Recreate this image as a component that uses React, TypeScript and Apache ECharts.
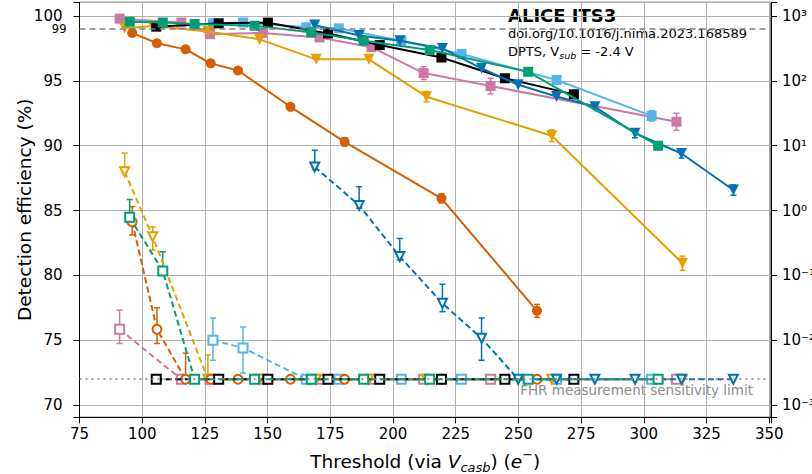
import React, { useEffect, useRef } from 'react';
import * as echarts from 'echarts';

// FHR sensitivity limit (right axis units); points below it are drawn at the limit
const LIMIT = 0.0025;

// ---- thresholds (e-) ----
const pinkThr = [91, 115.6, 127, 148, 170.7, 191.4, 212.2, 238.9, 313];
const greenThr = [95, 108.2, 120.9, 144.8, 167.4, 188.3, 214.6, 253.9, 305.7];
const blackThr = [105.6, 130.5, 150.1, 174.1, 194.7, 219.3, 244.6, 272.1];
const blueThr = [168.8, 186.5, 202.7, 219.7, 235.3, 249.9, 265.2, 280.5, 296.5, 315, 335.7];
const skyThr = [128.2, 140.2, 165.4, 178.4, 203.3, 227.3, 265.2, 303.1];
const yellowThr = [93, 104.2, 126.2, 146.8, 169.4, 190.4, 213.3, 263.3, 315.4];
const orangeThr = [96, 105.9, 117.3, 127.3, 138.2, 159.1, 180.7, 219.3, 257.4];

// ---- detection efficiency (%) ----
const pinkEff = [99.8, 99.5, 98.6, 98.7, 98.35, 97.6, 95.6, 94.6, 91.85];
const greenEff = [99.56, 99.5, 99.38, 99.25, 98.74, 98.1, 97.38, 95.7, 90.0];
const blackEff = [99.18, 99.44, 99.49, 98.66, 97.76, 96.8, 95.2, 93.96];
const blueEff = [99.3, 98.5, 98.1, 97.5, 95.97, 94.7, 93.8, 93.0, 90.96, 89.4, 86.58];
const skyEff = [99.44, 99.5, 99.13, 99.05, 98.1, 97.07, 95.07, 92.3];
const yellowEff = [99.05, 99.23, 98.8, 98.2, 96.66, 96.66, 93.78, 90.77, 80.93];
const orangeEff = [98.7, 97.9, 97.43, 96.35, 95.8, 93.0, 90.3, 85.94, 77.26];

// ---- efficiency uncertainties (±, %) ----
const pinkEffErr = [null, null, null, null, null, null, 0.5, 0.6, 0.65];
const greenEffErr = [null, null, null, null, null, null, null, null, 0.3];
const blackEffErr = [null, null, null, null, null, null, null, 0.3];
const blueEffErr = [null, null, null, null, null, null, null, null, 0.35, 0.35, 0.4];
const skyEffErr = [null, null, null, null, null, null, null, 0.4];
const yellowEffErr = [null, null, null, null, null, null, 0.4, 0.45, 0.55];
const orangeEffErr = [null, null, null, null, null, null, 0.3, 0.35, 0.5];

// ---- fake-hit rate (right log axis) ----
const pinkFhr = [0.0147, LIMIT, LIMIT, LIMIT, LIMIT, LIMIT, LIMIT, LIMIT, LIMIT];
const greenFhr = [0.785, 0.117, LIMIT, LIMIT, LIMIT, LIMIT, LIMIT, LIMIT, LIMIT];
const blackFhr = [LIMIT, LIMIT, LIMIT, LIMIT, LIMIT, LIMIT, LIMIT, LIMIT];
const blueFhr = [4.7, 1.2, 0.195, 0.037, 0.0107, LIMIT, LIMIT, LIMIT, LIMIT, LIMIT, LIMIT];
const skyFhr = [0.01, 0.0076, LIMIT, LIMIT, LIMIT, LIMIT, LIMIT, LIMIT];
const yellowFhr = [3.96, 0.394, LIMIT, LIMIT, LIMIT, LIMIT, LIMIT, LIMIT, LIMIT];
const orangeFhr = [0.67, 0.0147, LIMIT, LIMIT, LIMIT, LIMIT, LIMIT, LIMIT, LIMIT];

// ---- FHR uncertainty ranges [low, high], for the first points of each set ----
const pinkFhrErr = [[0.0089, 0.029]];
const greenFhrErr = [[0.645, 1.48], [0.101, 0.231]];
const blackFhrErr: number[][] = [];
const blueFhrErr = [[4.3, 8.5], [1.09, 2.33], [0.172, 0.37], [0.0275, 0.073], [0.0049, 0.022]];
const skyFhrErr = [[0.0049, 0.022], [0.0031, 0.016]];
const yellowFhrErr = [[3.9, 7.7], [0.245, 0.56], [LIMIT, 0.0059]];
const orangeFhrErr = [[0.42, 1.15], [0.0089, 0.0316], [LIMIT, 0.0063]];

// ---- axis tick values ----
const xTicks = [75, 100, 125, 150, 175, 200, 225, 250, 275, 300, 325, 350];
const yTickStep = 5;
const xMin = 75;
const xMax = 350.7;
const yMin = 69.05;
const yMax = 101.06;
const fhrMin = 0.000646;
const fhrMax = 1629;

const FONT = 'DejaVu Sans';

const SETS = [
  { color: '#CC79A7', sym: 'rect', rot: 0, thr: pinkThr, eff: pinkEff, effErr: pinkEffErr, fhr: pinkFhr, fhrErr: pinkFhrErr },
  { color: '#56B4E9', sym: 'rect', rot: 0, thr: skyThr, eff: skyEff, effErr: skyEffErr, fhr: skyFhr, fhrErr: skyFhrErr },
  { color: '#E69F00', sym: 'triangle', rot: 180, thr: yellowThr, eff: yellowEff, effErr: yellowEffErr, fhr: yellowFhr, fhrErr: yellowFhrErr },
  { color: '#D55E00', sym: 'circle', rot: 0, thr: orangeThr, eff: orangeEff, effErr: orangeEffErr, fhr: orangeFhr, fhrErr: orangeFhrErr },
  { color: '#000000', sym: 'rect', rot: 0, thr: blackThr, eff: blackEff, effErr: blackEffErr, fhr: blackFhr, fhrErr: blackFhrErr },
  { color: '#0072B2', sym: 'triangle', rot: 180, thr: blueThr, eff: blueEff, effErr: blueEffErr, fhr: blueFhr, fhrErr: blueFhrErr },
  { color: '#009E73', sym: 'rect', rot: 0, thr: greenThr, eff: greenEff, effErr: greenEffErr, fhr: greenFhr, fhrErr: greenFhrErr },
];

const SUP: Record<string, string> = { '-': '⁻', '0': '⁰', '1': '¹', '2': '²', '3': '³', '4': '⁴' };

function errorBars(color: string, data: number[][], yAxisIndex: number, z: number) {
  return {
    type: 'custom',
    yAxisIndex,
    z,
    silent: true,
    data,
    encode: { x: 0, y: [1, 2] },
    renderItem: (_params: any, api: any) => {
      const x = api.value(0);
      const p1 = api.coord([x, api.value(1)]);
      const p2 = api.coord([x, api.value(2)]);
      const cap = 3;
      const st = { stroke: color, lineWidth: 1.5 };
      return {
        type: 'group',
        children: [
          { type: 'line', shape: { x1: p1[0], y1: p1[1], x2: p2[0], y2: p2[1] }, style: st },
          { type: 'line', shape: { x1: p1[0] - cap, y1: p1[1], x2: p1[0] + cap, y2: p1[1] }, style: st },
          { type: 'line', shape: { x1: p2[0] - cap, y1: p2[1], x2: p2[0] + cap, y2: p2[1] }, style: st },
        ],
      };
    },
  };
}

export default function App() {
  const ref = useRef<HTMLDivElement>(null);

  useEffect(() => {
    if (!ref.current) return;
    const chart = echarts.init(ref.current, undefined, { renderer: 'svg' });

    const series: any[] = [];

    // FHR (dashed, open markers) on right log axis
    SETS.forEach((s, k) => {
      series.push({
        type: 'line',
        yAxisIndex: 1,
        z: 2 + k * 0.01,
        data: s.thr.map((t, i) => [t, s.fhr[i]]),
        symbol: 'empty' + s.sym.charAt(0).toUpperCase() + s.sym.slice(1),
        symbolRotate: s.rot,
        symbolSize: 9,
        itemStyle: { color: s.color, borderWidth: 1.3 },
        lineStyle: { color: s.color, width: 2, type: [6, 3.5] },
        silent: true,
      });
      const fe: number[][] = s.fhrErr.map((r, j) => [s.thr[j], r[0], r[1]]);
      if (fe.length) series.push(errorBars(s.color, fe, 1, 2));
    });

    // Efficiency (solid, filled markers) on left axis
    SETS.forEach((s, k) => {
      series.push({
        type: 'line',
        yAxisIndex: 0,
        z: 4 + k * 0.01,
        data: s.thr.map((t, i) => [t, s.eff[i]]),
        symbol: s.sym,
        symbolRotate: s.rot,
        symbolSize: s.sym === 'triangle' ? 11 : 10,
        itemStyle: { color: s.color },
        lineStyle: { color: s.color, width: 2 },
        silent: true,
      });
      const ee: number[][] = [];
      s.effErr.forEach((e, i) => {
        if (e != null) ee.push([s.thr[i], s.eff[i] - e, s.eff[i] + e]);
      });
      if (ee.length) series.push(errorBars(s.color, ee, 0, 4));
    });

    // reference lines
    series.push({
      type: 'line',
      yAxisIndex: 0,
      data: [],
      z: 1,
      markLine: {
        silent: true,
        symbol: ['none', 'none'],
        animation: false,
        data: [
          {
            yAxis: 99,
            lineStyle: { color: '#808080', type: [6, 4], width: 1.5 },
            label: { show: true, position: 'start', formatter: '99', color: '#000', fontSize: 11.5, fontFamily: FONT, distance: 13 },
          },
          {
            yAxis: 72,
            lineStyle: { color: '#808080', type: [2, 4], width: 1.5 },
            label: { show: false },
          },
        ],
      },
    });

    const option: any = {
      animation: false,
      textStyle: { fontFamily: FONT },
      grid: {
        left: 79.5,
        right: 41,
        top: 2.3,
        bottom: 56.7,
        show: true,
        borderColor: '#000',
        borderWidth: 1,
        containLabel: false,
        outerBoundsMode: 'none',
      },
      xAxis: {
        type: 'value',
        min: xMin,
        max: xMax,
        interval: 25,
        name: '{a|Threshold (via }{i|V}{s|casb}{a|) (}{i|e}{p|−}{a|)}',
        nameLocation: 'middle',
        nameGap: 31,
        nameTextStyle: {
          rich: {
            a: { fontSize: 18.5, fontFamily: FONT, color: '#000', lineHeight: 26, verticalAlign: 'middle' },
            i: { fontSize: 18.5, fontFamily: FONT, color: '#000', fontStyle: 'italic', lineHeight: 26, verticalAlign: 'middle' },
            s: { fontSize: 13, fontFamily: FONT, color: '#000', fontStyle: 'italic', lineHeight: 13, verticalAlign: 'bottom' },
            p: { fontSize: 13, fontFamily: FONT, color: '#000', lineHeight: 13, verticalAlign: 'top' },
          },
        },
        axisLine: { show: true, onZero: false, lineStyle: { color: '#000', width: 1 } },
        axisTick: { show: true, length: 6, lineStyle: { color: '#000' } },
        axisLabel: {
          fontSize: 15,
          color: '#000',
          fontFamily: FONT,
          margin: 9,
          formatter: (v: number) => (xTicks.some((t) => Math.abs(t - v) < 1e-6) ? String(Math.round(v)) : ''),
        },
        splitLine: { show: true, lineStyle: { color: '#b0b0b0', width: 1 } },
      },
      yAxis: [
        {
          type: 'value',
          min: yMin,
          max: yMax,
          position: 'left',
          name: 'Detection efficiency (%)',
          nameLocation: 'middle',
          nameGap: 46,
          nameMoveOverlap: false,
          nameTextStyle: { fontSize: 18.5, color: '#000', fontFamily: FONT },
          axisLine: { show: true, onZero: false, lineStyle: { color: '#000', width: 1 } },
          axisTick: { show: true, length: 6, lineStyle: { color: '#000' } },
          axisLabel: {
            fontSize: 15,
            color: '#000',
            fontFamily: FONT,
            margin: 17,
            formatter: (v: number) =>
              Math.abs(v / yTickStep - Math.round(v / yTickStep)) < 1e-6 ? String(Math.round(v)) : '',
          },
          splitLine: { show: true, lineStyle: { color: '#b0b0b0', width: 1 } },
        },
        {
          type: 'log',
          logBase: 10,
          min: fhrMin,
          max: fhrMax,
          position: 'right',
          axisLine: { show: true, onZero: false, lineStyle: { color: '#000', width: 1 } },
          axisTick: { show: true, length: 6, lineStyle: { color: '#000' } },
          axisLabel: {
            fontSize: 15,
            color: '#000',
            fontFamily: FONT,
            margin: 11,
            formatter: (v: number) => {
              const l = Math.log10(v);
              const r = Math.round(l);
              if (Math.abs(l - r) > 1e-6) return '';
              return '10' + String(r).split('').map((c) => SUP[c] || c).join('');
            },
          },
          splitLine: { show: false },
          minorTick: { show: false },
        },
      ],
      graphic: [
        {
          type: 'text',
          left: 508,
          top: 6,
          style: { text: 'ALICE ITS3', font: `bold 18px "${FONT}"`, fill: '#000' },
        },
        {
          type: 'text',
          left: 508,
          top: 27,
          style: { text: 'doi.org/10.1016/j.nima.2023.168589', font: `13px "${FONT}"`, fill: '#000' },
        },
        {
          type: 'text',
          left: 508,
          top: 45,
          style: {
            text: '{a|DPTS, V}{s|sub}{a| = -2.4 V}',
            rich: {
              a: { fontSize: 13, fontFamily: FONT, fill: '#000', lineHeight: 18, verticalAlign: 'middle' },
              s: { fontSize: 9.5, fontFamily: FONT, fill: '#000', fontStyle: 'italic', lineHeight: 10, verticalAlign: 'bottom' },
            },
          },
        },
        {
          type: 'text',
          right: 59,
          top: 383,
          style: { text: 'FHR measurement sensitivity limit', font: `13.5px "${FONT}"`, fill: '#8c8c8c' },
        },
      ],
      series,
    };

    chart.setOption(option);
    return () => chart.dispose();
  }, []);

  return <div ref={ref} style={{ position: 'absolute', left: 0, top: 0, width: 812, height: 474 }} />;
}
